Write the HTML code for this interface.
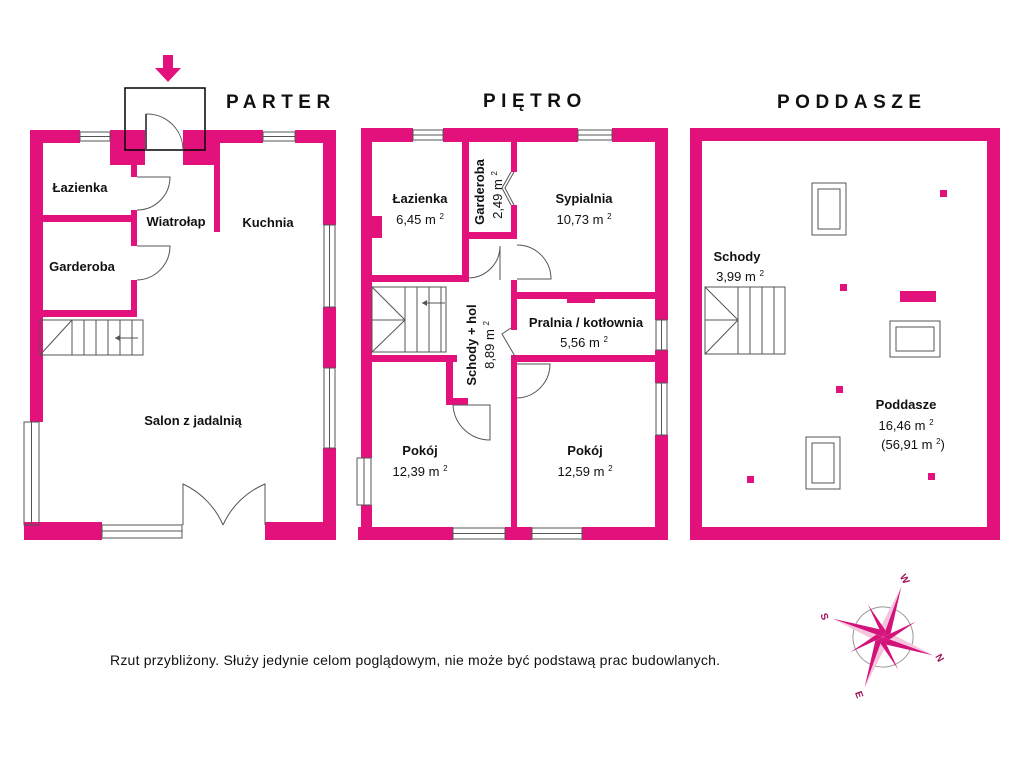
<!DOCTYPE html>
<html><head><meta charset="utf-8"><style>
html,body{margin:0;padding:0;background:#fff;}
svg{display:block;}
text{font-family:"Liberation Sans",sans-serif;fill:#111;}
</style></head><body>
<svg width="1024" height="768" viewBox="0 0 1024 768" xmlns="http://www.w3.org/2000/svg">
<g fill="#e3117b">
<rect x="30" y="130" width="50" height="13"/>
<rect x="110" y="130" width="35" height="35"/>
<rect x="183" y="130" width="80" height="13"/>
<rect x="183" y="143" width="37" height="22"/>
<rect x="295" y="130" width="41" height="13"/>
<rect x="30" y="130" width="13" height="292"/>
<rect x="323" y="130" width="13" height="95"/>
<rect x="323" y="307" width="13" height="61"/>
<rect x="323" y="448" width="13" height="92"/>
<rect x="24" y="522" width="78" height="18"/>
<rect x="265" y="522" width="71" height="18"/>
<rect x="131" y="165" width="6" height="12"/>
<rect x="131" y="210" width="6" height="36"/>
<rect x="131" y="280" width="6" height="37"/>
<rect x="43" y="215" width="94" height="7"/>
<rect x="43" y="310" width="94" height="7"/>
<rect x="214" y="143" width="6" height="89"/>
<rect x="361" y="128" width="52" height="14"/>
<rect x="443" y="128" width="135" height="14"/>
<rect x="612" y="128" width="56" height="14"/>
<rect x="361" y="128" width="11" height="330"/>
<rect x="368" y="216" width="14" height="22"/>
<rect x="361" y="505" width="11" height="35"/>
<rect x="655" y="128" width="13" height="192"/>
<rect x="655" y="350" width="13" height="33"/>
<rect x="655" y="435" width="13" height="105"/>
<rect x="358" y="527" width="95" height="13"/>
<rect x="505" y="527" width="27" height="13"/>
<rect x="582" y="527" width="86" height="13"/>
<rect x="462" y="142" width="7" height="136"/>
<rect x="462" y="232" width="55" height="7"/>
<rect x="511" y="142" width="6" height="30"/>
<rect x="511" y="205" width="6" height="34"/>
<rect x="372" y="275" width="97" height="7"/>
<rect x="511" y="280" width="6" height="50"/>
<rect x="511" y="292" width="144" height="7"/>
<rect x="567" y="296" width="28" height="7"/>
<rect x="511" y="355" width="144" height="7"/>
<rect x="511" y="355" width="6" height="172"/>
<rect x="372" y="355" width="85" height="7"/>
<rect x="446" y="355" width="7" height="50"/>
<rect x="446" y="398" width="22" height="7"/>
<rect x="690" y="128" width="310" height="13"/>
<rect x="690" y="128" width="12" height="412"/>
<rect x="987" y="128" width="13" height="412"/>
<rect x="690" y="527" width="310" height="13"/>
<rect x="940" y="190" width="7" height="7"/>
<rect x="840" y="284" width="7" height="7"/>
<rect x="900" y="291" width="36" height="11"/>
<rect x="836" y="386" width="7" height="7"/>
<rect x="747" y="476" width="7" height="7"/>
<rect x="928" y="473" width="7" height="7"/>
<rect x="163" y="55" width="10" height="17"/>
<polygon points="155,68 181,68 168,82"/>
</g>
<g fill="none" stroke="#555" stroke-width="1">
<rect x="80" y="132" width="30" height="9"/><line x1="80" y1="136.5" x2="110" y2="136.5"/>
<rect x="263" y="132" width="32" height="9"/><line x1="263" y1="136.5" x2="295" y2="136.5"/>
<rect x="324" y="225" width="11" height="82"/><line x1="329.5" y1="225" x2="329.5" y2="307"/>
<rect x="324" y="368" width="11" height="80"/><line x1="329.5" y1="368" x2="329.5" y2="448"/>
<rect x="24" y="422" width="15" height="103"/><line x1="31.5" y1="422" x2="31.5" y2="525"/>
<rect x="102" y="525" width="80" height="13"/><line x1="102" y1="531" x2="182" y2="531"/>
<rect x="125" y="88" width="80" height="62" stroke="#000" stroke-width="1.5"/>
<line x1="146" y1="114" x2="146" y2="150" stroke-width="2"/>
<path d="M146 114 A36 36 0 0 1 183 150"/>
<path d="M137 177 L170 177 A33 33 0 0 1 137 210"/>
<path d="M137 246 L170 246 A34 34 0 0 1 137 280"/>
<path d="M183 525 L183 484 A80 80 0 0 1 223 525"/>
<path d="M265 525 L265 484 A80 80 0 0 0 223 525"/>
<rect x="40" y="320" width="103" height="35"/>
<line x1="40" y1="355" x2="72" y2="320"/>
<line x1="72" y1="320" x2="72" y2="355"/><line x1="84" y1="320" x2="84" y2="355"/><line x1="96" y1="320" x2="96" y2="355"/><line x1="108" y1="320" x2="108" y2="355"/><line x1="120" y1="320" x2="120" y2="355"/><line x1="132" y1="320" x2="132" y2="355"/>
<line x1="115" y1="338" x2="138" y2="338"/>
<rect x="413" y="130" width="30" height="10"/><line x1="413" y1="135" x2="443" y2="135"/>
<rect x="578" y="130" width="34" height="10"/><line x1="578" y1="135" x2="612" y2="135"/>
<rect x="656" y="320" width="11" height="30"/><line x1="661.5" y1="320" x2="661.5" y2="350"/>
<rect x="656" y="383" width="11" height="52"/><line x1="661.5" y1="383" x2="661.5" y2="435"/>
<rect x="357" y="458" width="14" height="47"/><line x1="364" y1="458" x2="364" y2="505"/>
<rect x="453" y="528" width="52" height="11"/><line x1="453" y1="533.5" x2="505" y2="533.5"/>
<rect x="532" y="528" width="50" height="11"/><line x1="532" y1="533.5" x2="582" y2="533.5"/>
<path d="M500 246 A32 32 0 0 1 469 278"/><line x1="500" y1="246" x2="500" y2="280"/>
<path d="M517 245 A34 34 0 0 1 551 279 L517 279"/>
<path d="M511 172 L502 188 L511 205 M514 172 L505 188 L514 205"/>
<path d="M511 328 L502 334 L516 358"/>
<path d="M517 364 L550 364 A34 34 0 0 1 517 398"/>
<path d="M453 405 L490 405 L490 440 A37 37 0 0 1 453 405"/>
<rect x="372" y="287" width="74" height="65"/>
<line x1="372" y1="287" x2="405" y2="320"/><line x1="372" y1="352" x2="405" y2="320"/>
<line x1="372" y1="320" x2="405" y2="320"/>
<line x1="405" y1="287" x2="405" y2="352"/><line x1="417" y1="287" x2="417" y2="352"/><line x1="429" y1="287" x2="429" y2="352"/><line x1="441" y1="287" x2="441" y2="352"/>
<line x1="422" y1="303" x2="445" y2="303"/>
<rect x="705" y="287" width="80" height="67"/>
<line x1="705" y1="287" x2="738" y2="320"/><line x1="705" y1="354" x2="738" y2="320"/>
<line x1="705" y1="320" x2="738" y2="320"/>
<line x1="738" y1="287" x2="738" y2="354"/><line x1="750" y1="287" x2="750" y2="354"/><line x1="762" y1="287" x2="762" y2="354"/><line x1="774" y1="287" x2="774" y2="354"/>
<rect x="812" y="183" width="34" height="52"/><rect x="818" y="189" width="22" height="40"/>
<rect x="890" y="321" width="50" height="36"/><rect x="896" y="327" width="38" height="24"/>
<rect x="806" y="437" width="34" height="52"/><rect x="812" y="443" width="22" height="40"/>
</g>
<g fill="#555"><polygon points="115,338 120,335 120,341"/><polygon points="422,303 427,300 427,306"/></g>
<g font-size="19" font-weight="bold" letter-spacing="5.5">
<text x="226" y="108">PARTER</text>
<text x="483" y="107">PIĘTRO</text>
<text x="777" y="108">PODDASZE</text>
</g>
<g font-size="13" font-weight="bold" text-anchor="middle">
<text x="80" y="192">Łazienka</text>
<text x="176" y="226">Wiatrołap</text>
<text x="268" y="227">Kuchnia</text>
<text x="82" y="271">Garderoba</text>
<text x="193" y="425">Salon z jadalnią</text>
<text x="420" y="203">Łazienka</text>
<text x="584" y="203">Sypialnia</text>
<text x="586" y="327">Pralnia / kotłownia</text>
<text x="420" y="455">Pokój</text>
<text x="585" y="455">Pokój</text>
<text x="737" y="261">Schody</text>
<text x="906" y="409">Poddasze</text>
<text transform="translate(484,192) rotate(-90)">Garderoba</text>
<text transform="translate(476,345) rotate(-90)">Schody + hol</text>
</g>
<g font-size="13" text-anchor="middle">
<text x="420" y="224">6,45 m <tspan font-size="8" dy="-5">2</tspan></text>
<text x="584" y="224">10,73 m <tspan font-size="8" dy="-5">2</tspan></text>
<text x="584" y="347">5,56 m <tspan font-size="8" dy="-5">2</tspan></text>
<text x="420" y="476">12,39 m <tspan font-size="8" dy="-5">2</tspan></text>
<text x="585" y="476">12,59 m <tspan font-size="8" dy="-5">2</tspan></text>
<text x="740" y="281">3,99 m <tspan font-size="8" dy="-5">2</tspan></text>
<text x="906" y="430">16,46 m <tspan font-size="8" dy="-5">2</tspan></text>
<text x="913" y="449">(56,91 m <tspan font-size="8" dy="-5">2</tspan><tspan dy="5">)</tspan></text>
<text transform="translate(502,195) rotate(-90)">2,49 m <tspan font-size="8" dy="-5">2</tspan></text>
<text transform="translate(494,345) rotate(-90)">8,89 m <tspan font-size="8" dy="-5">2</tspan></text>
</g>
<text x="110" y="665" font-size="14" textLength="610">Rzut przybliżony. Służy jedynie celom poglądowym, nie może być podstawą prac budowlanych.</text>
<g transform="translate(883,637) rotate(20)">
<circle r="30" fill="none" stroke="#999" stroke-width="1"/>
<g fill="#d4137a">
<polygon points="0,-54 6,-6 0,0"/><polygon points="0,-54 -6,-6 0,0" fill="#f4c6dd"/>
<polygon points="0,54 -6,6 0,0"/><polygon points="0,54 6,6 0,0" fill="#f4c6dd"/>
<polygon points="54,0 6,6 0,0"/><polygon points="54,0 6,-6 0,0" fill="#f4c6dd"/>
<polygon points="-54,0 -6,-6 0,0"/><polygon points="-54,0 -6,6 0,0" fill="#f4c6dd"/>
<g transform="rotate(45)">
<polygon points="0,-36 5,-5 0,0"/><polygon points="0,36 -5,5 0,0"/><polygon points="36,0 5,5 0,0"/><polygon points="-36,0 -5,-5 0,0"/>
</g>
</g>
</g>
<g font-size="10" font-weight="bold">
<text x="901" y="582" transform="rotate(60 905 578)" style="fill:#a0105a">W</text>
<text x="822" y="620" transform="rotate(70 825 616)" style="fill:#a0105a">S</text>
<text x="937" y="661" transform="rotate(60 940 657)" style="fill:#a0105a">N</text>
<text x="856" y="699" transform="rotate(70 860 695)" style="fill:#a0105a">E</text>
</g>
</svg>
</body></html>
